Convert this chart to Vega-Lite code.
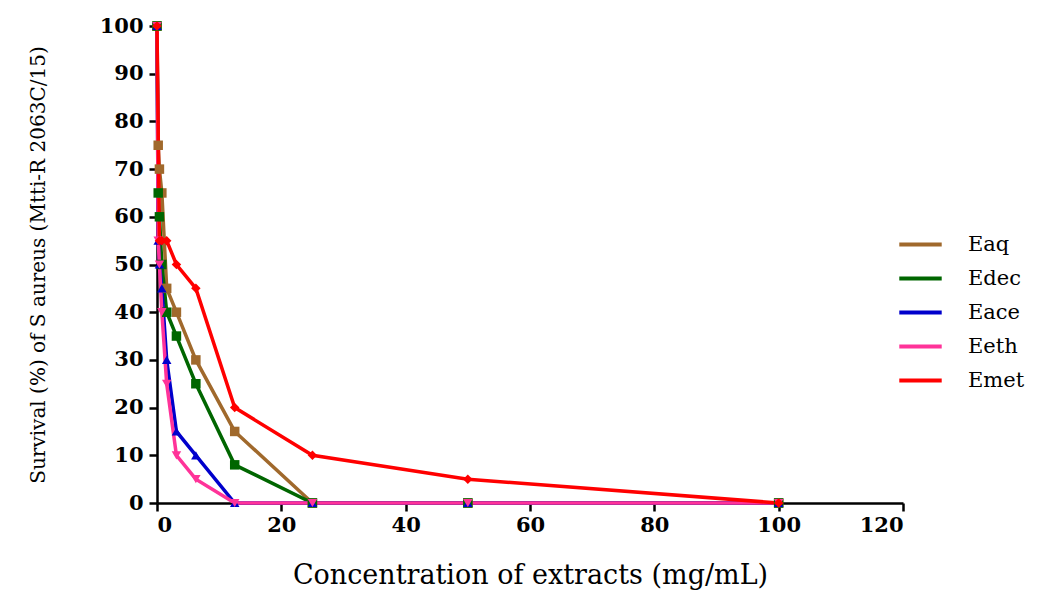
{
  "$schema": "https://vega.github.io/schema/vega-lite/v6.json",
  "autosize": {"type": "none"},
  "width": 746,
  "height": 477,
  "padding": {"left": 157, "top": 26, "right": 155, "bottom": 95},
  "background": "white",
  "config": {
    "view": {"stroke": null},
    "font": "DejaVu Serif"
  },
  "data": {
    "values": [
      {"series": "Eaq", "conc": 0, "survival": 100},
      {"series": "Eaq", "conc": 0.195, "survival": 75},
      {"series": "Eaq", "conc": 0.39, "survival": 70},
      {"series": "Eaq", "conc": 0.78, "survival": 65},
      {"series": "Eaq", "conc": 1.56, "survival": 45},
      {"series": "Eaq", "conc": 3.125, "survival": 40},
      {"series": "Eaq", "conc": 6.25, "survival": 30},
      {"series": "Eaq", "conc": 12.5, "survival": 15},
      {"series": "Eaq", "conc": 25, "survival": 0},
      {"series": "Eaq", "conc": 50, "survival": 0},
      {"series": "Eaq", "conc": 100, "survival": 0},
      {"series": "Edec", "conc": 0, "survival": 100},
      {"series": "Edec", "conc": 0.195, "survival": 65},
      {"series": "Edec", "conc": 0.39, "survival": 60},
      {"series": "Edec", "conc": 0.78, "survival": 50},
      {"series": "Edec", "conc": 1.56, "survival": 40},
      {"series": "Edec", "conc": 3.125, "survival": 35},
      {"series": "Edec", "conc": 6.25, "survival": 25},
      {"series": "Edec", "conc": 12.5, "survival": 8},
      {"series": "Edec", "conc": 25, "survival": 0},
      {"series": "Edec", "conc": 50, "survival": 0},
      {"series": "Edec", "conc": 100, "survival": 0},
      {"series": "Eace", "conc": 0, "survival": 100},
      {"series": "Eace", "conc": 0.195, "survival": 55},
      {"series": "Eace", "conc": 0.39, "survival": 50},
      {"series": "Eace", "conc": 0.78, "survival": 45},
      {"series": "Eace", "conc": 1.56, "survival": 30},
      {"series": "Eace", "conc": 3.125, "survival": 15},
      {"series": "Eace", "conc": 6.25, "survival": 10},
      {"series": "Eace", "conc": 12.5, "survival": 0},
      {"series": "Eace", "conc": 25, "survival": 0},
      {"series": "Eace", "conc": 50, "survival": 0},
      {"series": "Eace", "conc": 100, "survival": 0},
      {"series": "Eeth", "conc": 0, "survival": 100},
      {"series": "Eeth", "conc": 0.195, "survival": 55},
      {"series": "Eeth", "conc": 0.39, "survival": 50},
      {"series": "Eeth", "conc": 0.78, "survival": 40},
      {"series": "Eeth", "conc": 1.56, "survival": 25},
      {"series": "Eeth", "conc": 3.125, "survival": 10},
      {"series": "Eeth", "conc": 6.25, "survival": 5},
      {"series": "Eeth", "conc": 12.5, "survival": 0},
      {"series": "Eeth", "conc": 25, "survival": 0},
      {"series": "Eeth", "conc": 50, "survival": 0},
      {"series": "Eeth", "conc": 100, "survival": 0},
      {"series": "Emet", "conc": 0, "survival": 100},
      {"series": "Emet", "conc": 0.39, "survival": 55},
      {"series": "Emet", "conc": 0.78, "survival": 55},
      {"series": "Emet", "conc": 1.56, "survival": 55},
      {"series": "Emet", "conc": 3.125, "survival": 50},
      {"series": "Emet", "conc": 6.25, "survival": 45},
      {"series": "Emet", "conc": 12.5, "survival": 20},
      {"series": "Emet", "conc": 25, "survival": 10},
      {"series": "Emet", "conc": 50, "survival": 5},
      {"series": "Emet", "conc": 100, "survival": 0}
    ]
  },
  "encoding": {
    "x": {
      "field": "conc", "type": "quantitative",
      "scale": {"domain": [0, 120], "nice": false, "zero": true},
      "axis": {
        "values": [0, 20, 40, 60, 80, 100, 120],
        "title": "Concentration of extracts (mg/mL)",
        "titleFont": "DejaVu Serif", "titleFontSize": 27, "titleFontWeight": "normal",
        "titleColor": "black", "titlePadding": 27,
        "labelFont": "DejaVu Serif", "labelFontSize": 21, "labelFontWeight": "bold",
        "labelColor": "black", "labelPadding": 3,
        "domainColor": "black", "domainWidth": 2.5,
        "tickColor": "black", "tickWidth": 2.5, "tickSize": 8,
        "grid": false
      }
    },
    "y": {
      "field": "survival", "type": "quantitative",
      "scale": {"domain": [0, 100], "nice": false},
      "axis": {
        "values": [0, 10, 20, 30, 40, 50, 60, 70, 80, 90, 100],
        "title": "Survival (%) of S aureus (Mtti-R 2063C/15)",
        "titleFont": "DejaVu Serif", "titleFontSize": 20, "titleFontWeight": "normal",
        "titleColor": "black", "titlePadding": 51,
        "labelFont": "DejaVu Serif", "labelFontSize": 21, "labelFontWeight": "bold",
        "labelColor": "black", "labelPadding": 6,
        "domainColor": "black", "domainWidth": 2.5,
        "tickColor": "black", "tickWidth": 2.5, "tickSize": 8,
        "grid": false
      }
    }
  },
  "resolve": {"scale": {"color": "independent"}},
  "layer": [
    {
      "mark": {"type": "line", "strokeWidth": 3.5, "clip": false},
      "encoding": {
        "color": {
          "field": "series", "type": "nominal",
          "scale": {
            "domain": ["Eaq", "Edec", "Eace", "Eeth", "Emet"],
            "range": ["#A0692C", "#006600", "#0000CC", "#FF3399", "#FF0000"]
          },
          "legend": {
            "orient": "none", "legendX": 740, "legendY": 195,
            "title": null,
            "symbolType": "stroke", "symbolSize": 1800, "symbolStrokeWidth": 4,
            "labelFont": "DejaVu Serif", "labelFontSize": 21, "labelColor": "black",
            "labelOffset": 24, "rowPadding": -14
          }
        }
      }
    },
    {
      "mark": {"type": "point", "filled": true, "size": 90, "opacity": 1, "clip": false},
      "encoding": {
        "color": {
          "field": "series", "type": "nominal",
          "scale": {
            "domain": ["Eaq", "Edec", "Eace", "Eeth", "Emet"],
            "range": ["#A0692C", "#006600", "#0000CC", "#FF3399", "#FF0000"]
          },
          "legend": null
        },
        "shape": {
          "field": "series", "type": "nominal",
          "scale": {
            "domain": ["Eaq", "Edec", "Eace", "Eeth", "Emet"],
            "range": ["square", "square", "triangle-up", "triangle-down", "diamond"]
          },
          "legend": null
        }
      }
    }
  ]
}
